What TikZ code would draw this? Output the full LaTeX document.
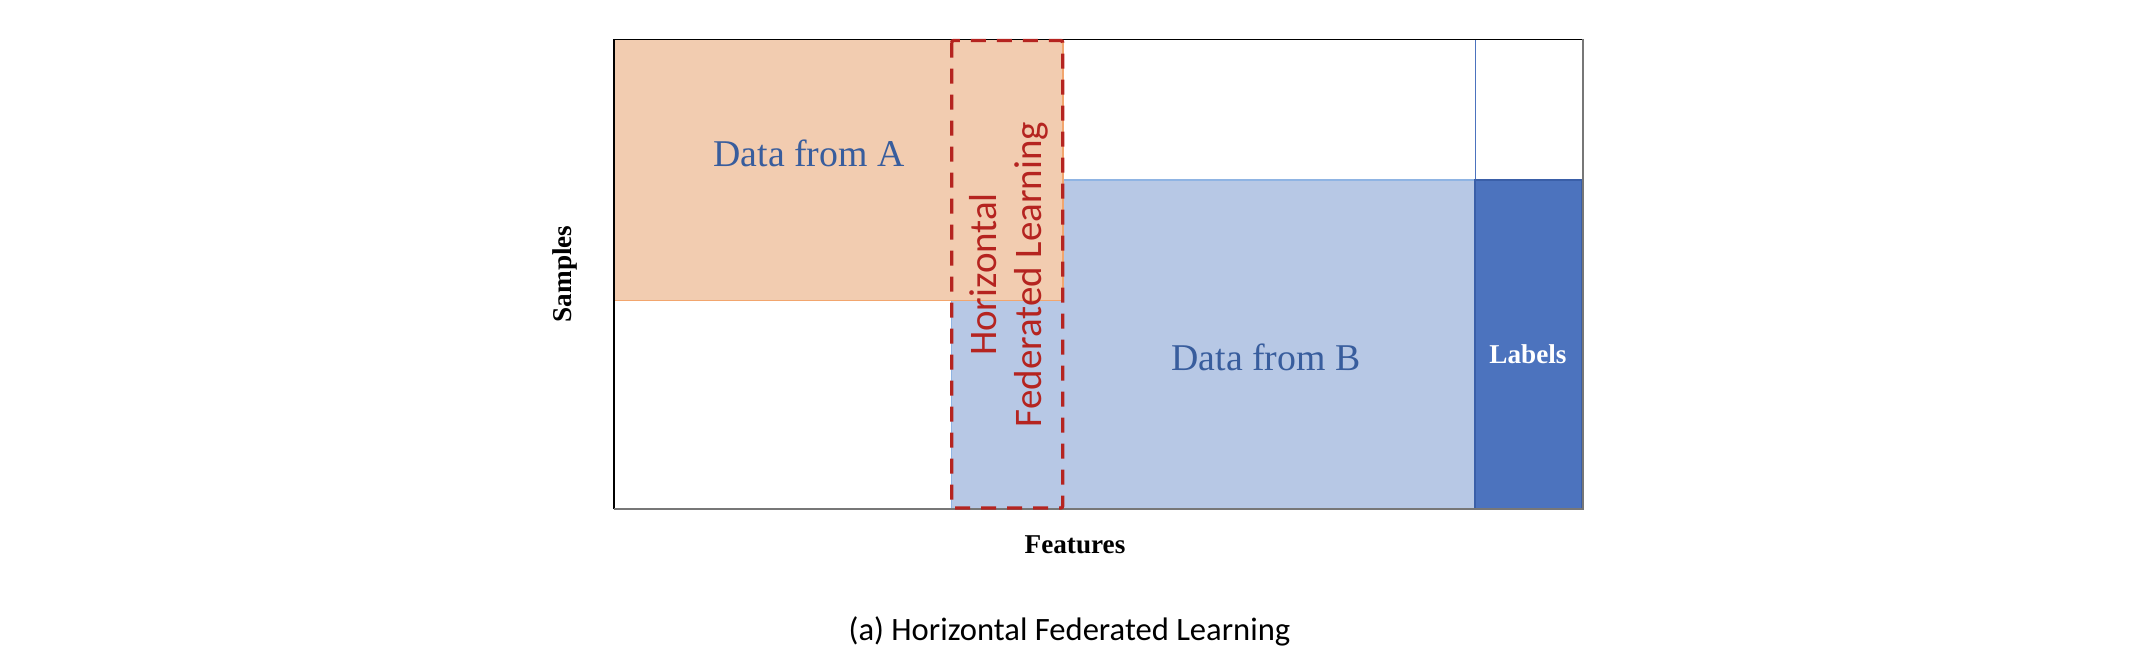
\documentclass[tikz,border=0pt]{standalone}
\usepackage{fontspec}
\setmainfont{Liberation Serif}
\newfontfamily\carlitofont{Carlito}
\definecolor{orfill}{HTML}{F2CCB0}
\definecolor{ordraw}{HTML}{F2A66E}
\definecolor{blfill}{HTML}{B7C8E5}
\definecolor{bldraw}{HTML}{8FB4E3}
\definecolor{lbfill}{HTML}{4C73BE}
\definecolor{lbdraw}{HTML}{3A5FA8}
\definecolor{hflred}{HTML}{B52420}
\definecolor{txtblue}{HTML}{385D9D}
\definecolor{framegray}{HTML}{777777}
\tikzset{
  datatext/.style={text=txtblue, font=\fontsize{18.9}{22}\selectfont, inner sep=0pt, anchor=base},
  axistext/.style={font=\fontsize{13.6}{16}\selectfont\bfseries, inner sep=0pt, anchor=base},
  hfltext/.style={text=hflred, font=\carlitofont\fontsize{19.5}{22.5}\selectfont, inner sep=0pt, anchor=base, rotate=90, align=center},
  hflbox/.style={draw=hflred, line width=1.7pt, dash pattern=on 7.5pt off 5.5pt, rounded corners=1pt},
}
\begin{document}
\begin{tikzpicture}[x=0.5pt, y=-0.5pt]
\useasboundingbox (0,0) rectangle (2132,670);
% blue data of B (behind A)
\path[fill=blfill, draw=bldraw, line width=0.6pt] (951.7,180) rectangle (1475,509);
% orange data of A
\path[fill=orfill, draw=ordraw, line width=0.6pt] (614,39.3) rectangle (1063,300.7);
% labels column
\path[draw=lbfill, line width=0.5pt] (1475,39.3) rectangle (1583,509);
\path[fill=lbfill, draw=lbdraw, line width=0.6pt] (1475,180) rectangle (1582,509);
% frame
\draw[black, line width=0.6pt] (614,509) -- (614,39.3) -- (1583,39.3);
\draw[framegray, line width=0.8pt] (614,509) -- (1583,509) -- (1583,39.3);
% dashed HFL box
\draw[hflbox] (951.7,40.5) rectangle (1062.7,508);
% texts
\node[datatext] (dataA) at (809,166.7) {Data from A};
\node[datatext] (dataB) at (1266,370) {Data from B};
\node[axistext, text=white] (labels) at (1528,363) {Labels};
\node[axistext] (features) at (1075,553) {Features};
\node[axistext, rotate=90] (samples) at (571.7,274) {Samples};
\node[hfltext] (hfl) at (1041.7,274.5) {Horizontal\\Federated Learning};
\node[inner sep=0pt, anchor=base, font=\carlitofont\fontsize{16.3}{19}\selectfont] (caption) at (1069.5,640) {(a) Horizontal Federated Learning};
\end{tikzpicture}
\end{document}
